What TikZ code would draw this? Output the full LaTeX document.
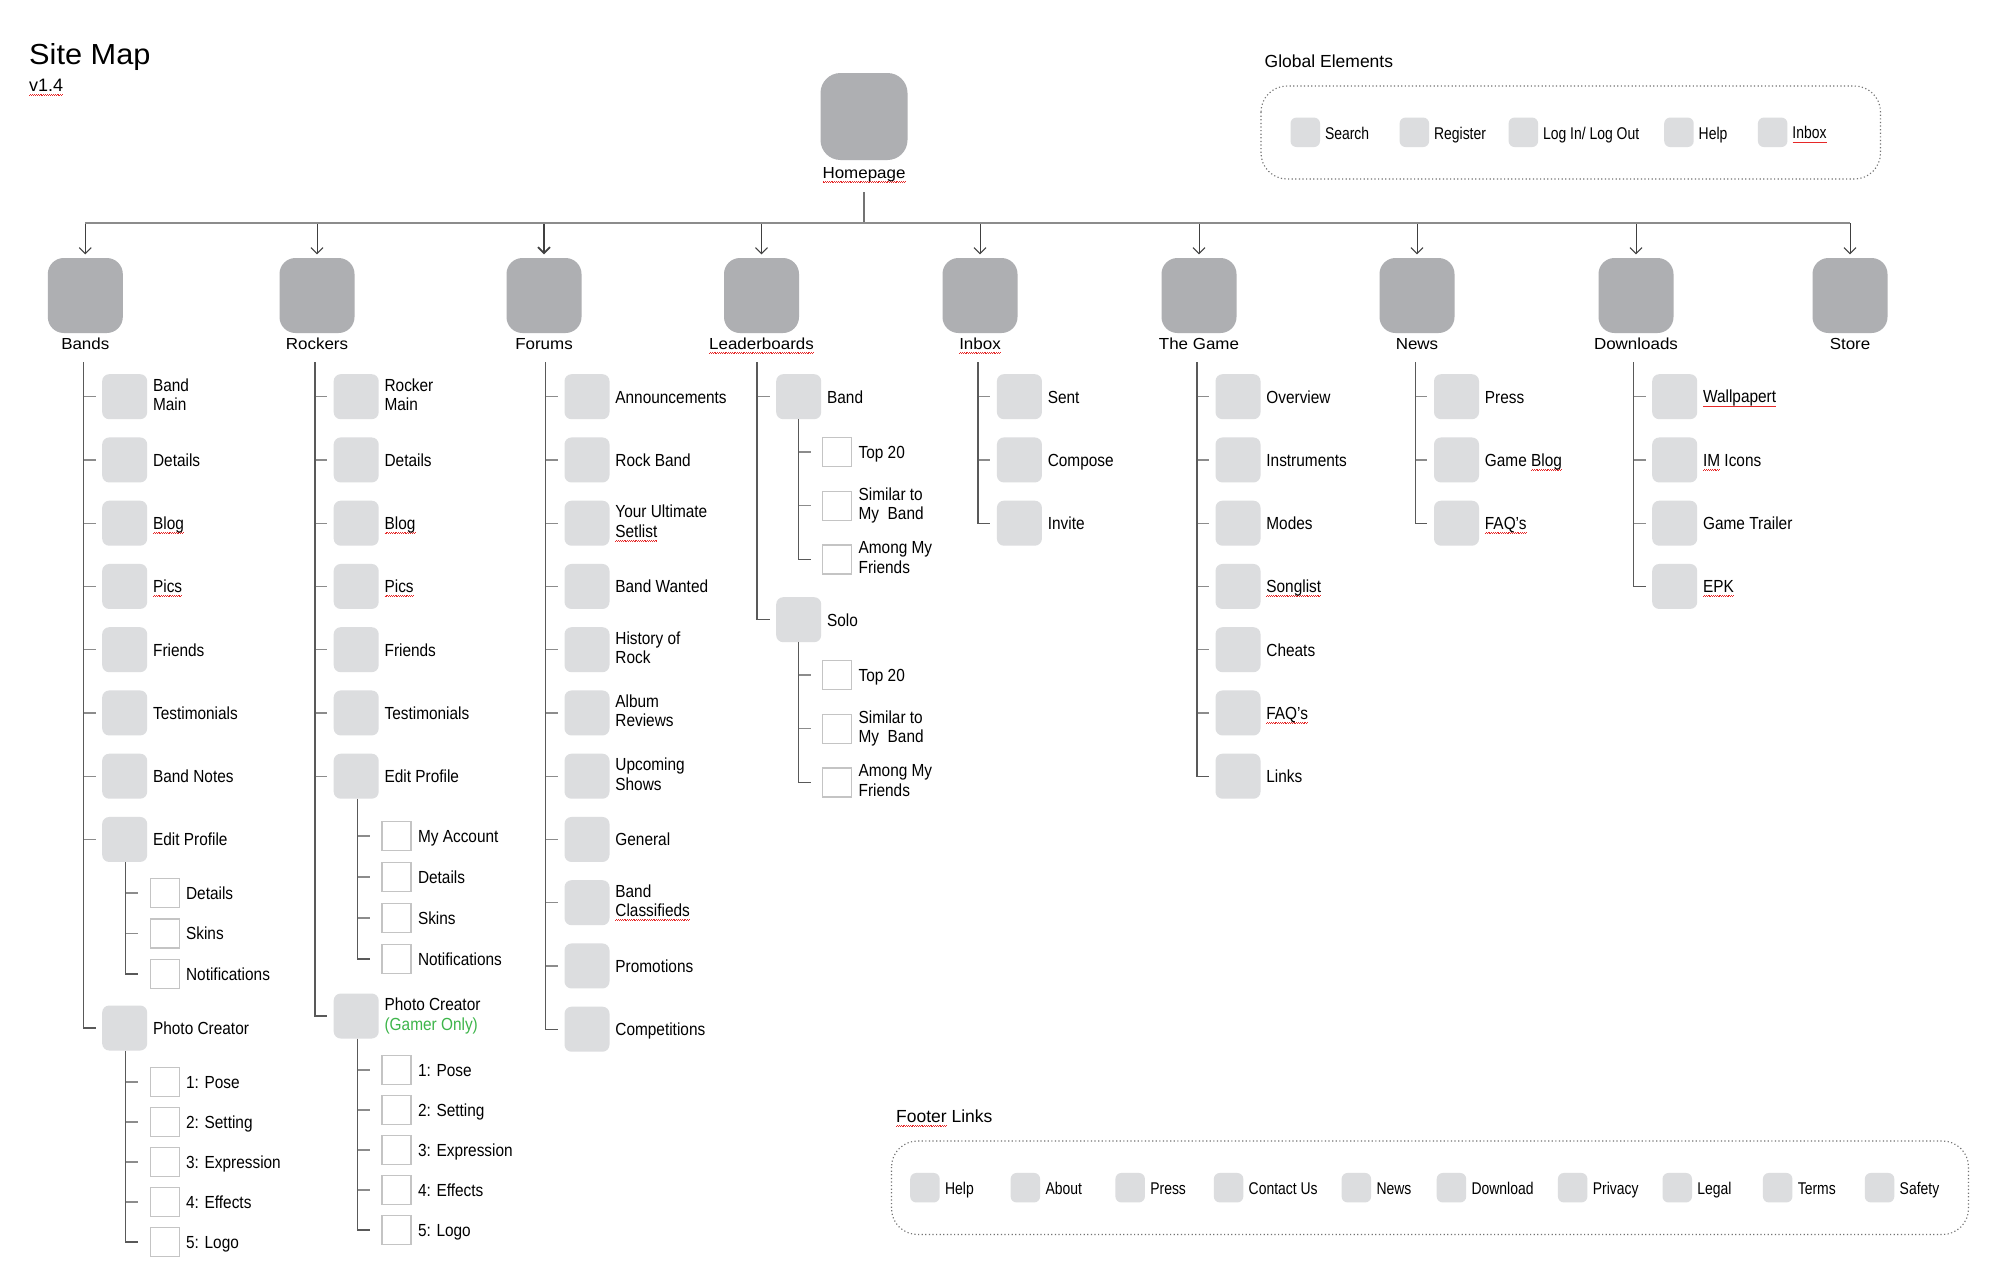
\documentclass[tikz,border=0pt]{standalone}
\usepackage{fontspec}
\setmainfont{Liberation Sans}
\newfontfamily\topfont{Liberation Sans}[FakeStretch=1.06]
\newfontfamily\subfont{Liberation Sans}[FakeStretch=0.88]
\newfontfamily\chipfont{Liberation Sans}[FakeStretch=0.82]
\usetikzlibrary{positioning}
\usetikzlibrary{arrows.meta}

\definecolor{pagedark}{RGB}{174,175,178}
\definecolor{pagelight}{RGB}{220,221,223}
\definecolor{boxedge}{RGB}{196,196,196}
\definecolor{gamergreen}{RGB}{61,181,74}
\definecolor{spellred}{RGB}{230,40,40}

% red spell-check wave under a word
\newcommand\spellwave{\hbox{\rule[-4.3pt]{0.9pt}{0.7pt}\rule[-3.6pt]{0.9pt}{0.7pt}}}
\newcommand\spell[1]{\setbox0=\hbox{#1}\rlap{\hbox to\wd0{\color{spellred}\xleaders\spellwave\hfil}}\box0\relax}
\newcommand\substrut{\rule[-3.9pt]{0pt}{20.4pt}}
\newcommand\chipstrut{\rule[-3.8pt]{0pt}{21pt}}

\begin{document}
\begin{tikzpicture}[
  x=1pt,y=-1pt,
  toppage/.style={fill=pagedark,rounded corners=16pt,minimum size=75pt,inner sep=0pt},
  homepage/.style={toppage,minimum size=87pt,rounded corners=20pt},
  subpage/.style={fill=pagelight,rounded corners=7pt,minimum size=45pt,inner sep=0pt,anchor=west},
  leafpage/.style={draw=boxedge,line width=1.4pt,fill=white,minimum size=29pt,inner sep=0pt,anchor=west},
  chip/.style={fill=pagelight,rounded corners=6pt,minimum size=29.5pt,inner sep=0pt,anchor=west},
  toplabel/.style={font=\topfont\fontsize{16}{19}\selectfont,inner sep=0pt,anchor=base},
  sublabel/.style={font=\subfont\fontsize{17.5}{19.3}\selectfont,inner sep=0pt,align=left,
    execute at begin node=\substrut,execute at end node=\substrut},
  chiplabel/.style={font=\chipfont\fontsize{17}{20}\selectfont,inner sep=0pt,
    execute at begin node=\chipstrut},
  heading/.style={font=\fontsize{17.5}{20}\selectfont,inner sep=0pt,anchor=base west},
  bus/.style={draw=black!45,line width=1.7pt},
  stem/.style={draw=black!55,line width=1.3pt},
  drop/.style={-{Straight Barb[length=6pt,width=12pt]},draw=black!75,shorten >=3.5pt},
  spine/.style={draw=black!65,line width=1.3pt},
  tick/.style={draw=black!45,line width=1.3pt},
  group/.style={draw=black!55,line width=1.1pt,dash pattern=on 1.2pt off 2.4pt,rounded corners=26pt}
]
  \fill[white] (0,0) rectangle (2003,1277);

  % title
  \node[font=\topfont\fontsize{29}{34}\selectfont,inner sep=0pt,anchor=base west] (title) at (29,64) {Site Map};
  \node[font=\fontsize{18}{21}\selectfont,inner sep=0pt,anchor=base west] (version) at (29,91) {\spell{v1.4}};

  % homepage and first level
  \node[homepage] (home) at (864,116.5) {};
  \node[toplabel] (home-t) at (864,178) {\spell{Homepage}};
  \coordinate (hub) at (864,223);
  \draw[stem,shorten <=9.5pt] (home-t.south) -- (hub);

  \foreach \nm/\x/\txt/\w in {bands/85.3/Bands/1,rockers/317/Rockers/1,forums/544/Forums/1.7,
      lead/761.5/\spell{Leaderboards}/1,inbox/980/\spell{Inbox}/1,game/1199/The Game/1,
      news/1417/News/1,down/1636/Downloads/1,store/1850/Store/1}{
    \node[toppage] (\nm) at (\x,295.5) {};
    \node[toplabel] (\nm-t) at (\x,349) {\txt};
    \draw[drop,line width=\w pt] (\nm.north |- hub) -- (\nm.north);
  }
  \draw[bus] (bands.north |- hub) -- (store.north |- hub);

  % Bands
  \coordinate (bands-s) at (83.5,362);
  \foreach \i/\txt in {1/{Band\\Main},2/Details,3/\spell{Blog},4/\spell{Pics},5/Friends,
      6/Testimonials,7/Band Notes,8/Edit Profile}{
    \node[subpage] (bands-\i) at (102,{396.7+63.25*(\i-1)}) {};
    \node[sublabel,right=5.5pt of bands-\i] (bands-\i-t) {\txt};
    \draw[tick] (bands-s |- bands-\i.west) -- ([xshift=-6.5pt]bands-\i.west);
  }
  \node[subpage] (bands-9) at (102,1028) {};
  \node[sublabel,right=5.5pt of bands-9] (bands-9-t) {Photo Creator};
  \draw[spine] (bands-s) |- ([xshift=-6.5pt]bands-9.west);

  \coordinate (bandsEP-s) at ([xshift=1pt]bands-8.south);
  \foreach \i/\txt in {1/Details,2/Skins,3/Notifications}{
    \node[leafpage] (bandsEP-\i) at (149.5,{893+40.5*(\i-1)}) {};
    \node[sublabel,right=6pt of bandsEP-\i] (bandsEP-\i-t) {\txt};
    \draw[tick] (bandsEP-s |- bandsEP-\i.west) -- ([xshift=-11.5pt]bandsEP-\i.west);
  }
  \draw[spine] (bandsEP-s) |- ([xshift=-11.5pt]bandsEP-3.west);

  \coordinate (bandsPC-s) at ([xshift=1pt]bands-9.south);
  \foreach \i/\txt in {1/1: Pose,2/2: Setting,3/3: Expression,4/4: Effects,5/5: Logo}{
    \node[leafpage] (bandsPC-\i) at (149.5,{1082+40*(\i-1)}) {};
    \node[sublabel,right=6pt of bandsPC-\i] (bandsPC-\i-t) {\txt};
    \draw[tick] (bandsPC-s |- bandsPC-\i.west) -- ([xshift=-11.5pt]bandsPC-\i.west);
  }
  \draw[spine] (bandsPC-s) |- ([xshift=-11.5pt]bandsPC-5.west);

  % Rockers
  \coordinate (rockers-s) at (315,362);
  \foreach \i/\txt in {1/{Rocker\\Main},2/Details,3/\spell{Blog},4/\spell{Pics},5/Friends,
      6/Testimonials,7/Edit Profile}{
    \node[subpage] (rockers-\i) at (333.5,{396.7+63.25*(\i-1)}) {};
    \node[sublabel,right=5.5pt of rockers-\i] (rockers-\i-t) {\txt};
    \draw[tick] (rockers-s |- rockers-\i.west) -- ([xshift=-6.5pt]rockers-\i.west);
  }
  \node[subpage] (rockers-8) at (333.5,1016) {};
  \node[sublabel,right=5.5pt of rockers-8] (rockers-8-t) {Photo Creator\\\textcolor{gamergreen}{(Gamer Only)}};
  \draw[spine] (rockers-s) |- ([xshift=-6.5pt]rockers-8.west);

  \coordinate (rockersEP-s) at ([xshift=1pt]rockers-7.south);
  \foreach \i/\txt in {1/My Account,2/Details,3/Skins,4/Notifications}{
    \node[leafpage] (rockersEP-\i) at (381.4,{836+41*(\i-1)}) {};
    \node[sublabel,right=6pt of rockersEP-\i] (rockersEP-\i-t) {\txt};
    \draw[tick] (rockersEP-s |- rockersEP-\i.west) -- ([xshift=-11.5pt]rockersEP-\i.west);
  }
  \draw[spine] (rockersEP-s) |- ([xshift=-11.5pt]rockersEP-4.west);

  \coordinate (rockersPC-s) at ([xshift=1pt]rockers-8.south);
  \foreach \i/\txt in {1/1: Pose,2/2: Setting,3/3: Expression,4/4: Effects,5/5: Logo}{
    \node[leafpage] (rockersPC-\i) at (381.4,{1070+40*(\i-1)}) {};
    \node[sublabel,right=6pt of rockersPC-\i] (rockersPC-\i-t) {\txt};
    \draw[tick] (rockersPC-s |- rockersPC-\i.west) -- ([xshift=-11.5pt]rockersPC-\i.west);
  }
  \draw[spine] (rockersPC-s) |- ([xshift=-11.5pt]rockersPC-5.west);

  % Forums
  \coordinate (forums-s) at (545.3,362);
  \foreach \i/\txt in {1/Announcements,2/Rock Band,3/{Your Ultimate\\\spell{Setlist}},4/Band Wanted,
      5/{History of\\Rock},6/{Album\\Reviews},7/{Upcoming\\Shows},8/General,
      9/{Band\\\spell{Classifieds}},10/Promotions,11/Competitions}{
    \node[subpage] (forums-\i) at (564.3,{396.7+63.25*(\i-1)}) {};
    \node[sublabel,right=5.5pt of forums-\i] (forums-\i-t) {\txt};
    \draw[tick] (forums-s |- forums-\i.west) -- ([xshift=-6.5pt]forums-\i.west);
  }
  \draw[spine] (forums-s) |- ([xshift=-6.5pt]forums-11.west);

  % Leaderboards
  \coordinate (lead-s) at (757,362);
  \node[subpage] (lead-1) at (776,396.7) {};
  \node[sublabel,right=5.5pt of lead-1] (lead-1-t) {Band};
  \node[subpage] (lead-2) at (776,619.7) {};
  \node[sublabel,right=5.5pt of lead-2] (lead-2-t) {Solo};
  \draw[tick] (lead-s |- lead-1.west) -- ([xshift=-6.5pt]lead-1.west);
  \draw[spine] (lead-s) |- ([xshift=-6.5pt]lead-2.west);

  \foreach \grp/\up/\y in {leadB/lead-1/452,leadS/lead-2/675}{
    \coordinate (\grp-s) at (\up.south);
    \foreach \i/\txt in {1/Top 20,2/{Similar to\\My\ \ Band},3/{Among My\\Friends}}{
      \node[leafpage] (\grp-\i) at (822,{\y+53.7*(\i-1)}) {};
      \node[sublabel,right=6pt of \grp-\i] (\grp-\i-t) {\txt};
      \draw[tick] (\grp-s |- \grp-\i.west) -- ([xshift=-11.5pt]\grp-\i.west);
    }
    \draw[spine] (\grp-s) |- ([xshift=-11.5pt]\grp-3.west);
  }

  % Inbox
  \coordinate (inbox-s) at (978,362);
  \foreach \i/\txt in {1/Sent,2/Compose,3/Invite}{
    \node[subpage] (inbox-\i) at (996.7,{396.7+63.25*(\i-1)}) {};
    \node[sublabel,right=5.5pt of inbox-\i] (inbox-\i-t) {\txt};
    \draw[tick] (inbox-s |- inbox-\i.west) -- ([xshift=-6.5pt]inbox-\i.west);
  }
  \draw[spine] (inbox-s) |- ([xshift=-6.5pt]inbox-3.west);

  % The Game
  \coordinate (game-s) at (1197,362);
  \foreach \i/\txt in {1/Overview,2/Instruments,3/Modes,4/\spell{Songlist},5/Cheats,
      6/\spell{FAQ’s},7/Links}{
    \node[subpage] (game-\i) at (1215.3,{396.7+63.25*(\i-1)}) {};
    \node[sublabel,right=5.5pt of game-\i] (game-\i-t) {\txt};
    \draw[tick] (game-s |- game-\i.west) -- ([xshift=-6.5pt]game-\i.west);
  }
  \draw[spine] (game-s) |- ([xshift=-6.5pt]game-7.west);

  % News
  \coordinate (news-s) at (1415.5,362);
  \foreach \i/\txt in {1/Press,2/Game \spell{Blog},3/\spell{FAQ’s}}{
    \node[subpage] (news-\i) at (1433.8,{396.7+63.25*(\i-1)}) {};
    \node[sublabel,right=5.5pt of news-\i] (news-\i-t) {\txt};
    \draw[tick] (news-s |- news-\i.west) -- ([xshift=-6.5pt]news-\i.west);
  }
  \draw[spine] (news-s) |- ([xshift=-6.5pt]news-3.west);

  % Downloads
  \coordinate (down-s) at (1633.5,362);
  \foreach \i/\txt in {1/\spell{Wallpapert},2/\spell{IM} Icons,3/Game Trailer,4/\spell{EPK}}{
    \node[subpage] (down-\i) at (1652,{396.7+63.25*(\i-1)}) {};
    \node[sublabel,right=5.5pt of down-\i] (down-\i-t) {\txt};
    \draw[tick] (down-s |- down-\i.west) -- ([xshift=-6.5pt]down-\i.west);
  }
  \draw[spine] (down-s) |- ([xshift=-6.5pt]down-4.west);

  % global elements
  \node[heading] (global-h) at (1264.5,67.5) {Global Elements};
  \draw[group] (1261,86) rectangle (1880.5,179);
  \foreach \i/\x/\txt in {1/1290.3/Search,2/1399.4/Register,3/1508.4/{Log In/ Log Out},
      4/1664/Help,5/1757.7/\spell{Inbox}}{
    \node[chip] (glob-\i) at (\x,132.3) {};
    \node[chiplabel,right=4.6pt of glob-\i] (glob-\i-t) {\txt};
  }

  % footer links
  \node[heading] (foot-h) at (896,1122.5) {\spell{Footer} Links};
  \draw[group] (891.5,1141) rectangle (1968.5,1234.5);
  \foreach \i/\x/\txt in {1/910/Help,2/1010.4/About,3/1115.2/Press,4/1213.6/Contact Us,
      5/1341.4/News,6/1436.5/Download,7/1557.7/Privacy,8/1662.3/Legal,9/1762.7/Terms,
      10/1864.6/Safety}{
    \node[chip] (foot-\i) at (\x,1187.7) {};
    \node[chiplabel,right=5pt of foot-\i] (foot-\i-t) {\txt};
  }
\end{tikzpicture}
\end{document}
